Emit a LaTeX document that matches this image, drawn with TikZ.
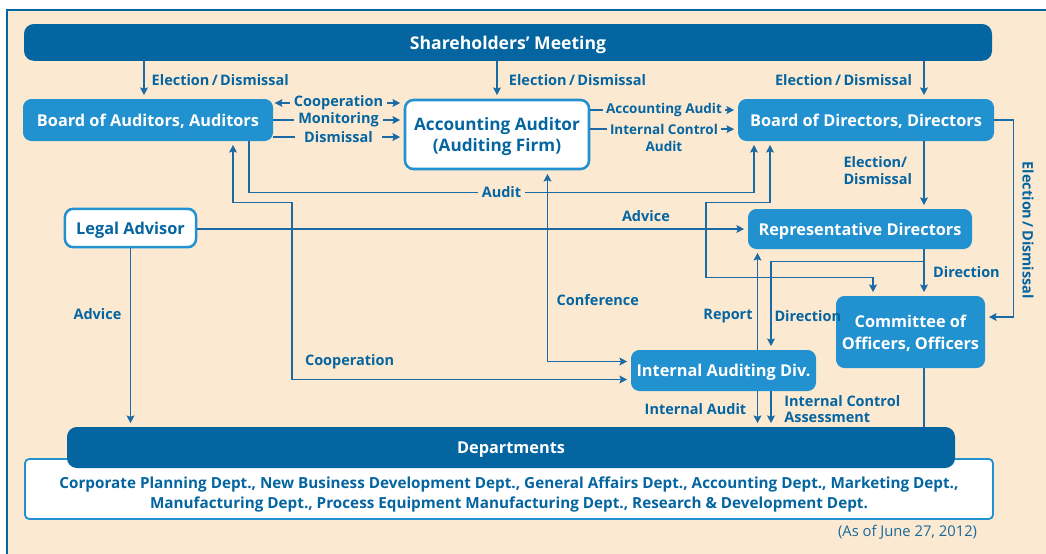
\documentclass[tikz,border=0pt]{standalone}
\usepackage{fontspec}
\setmainfont{Open Sans}
\usepackage{tikz}
\usetikzlibrary{arrows.meta,positioning}
\definecolor{paper}{RGB}{252,233,210}
\definecolor{navy}{RGB}{4,101,160}
\definecolor{midblue}{RGB}{33,145,207}
\definecolor{wire}{RGB}{26,106,165}

\begin{document}
\begin{tikzpicture}[>={Stealth[length=5.5pt,width=5.5pt,inset=1pt]}, every node/.style={align=center},
    headbar/.style={fill=navy,rounded corners=7pt,text=white,text depth=0pt,font=\fontsize{12.5}{15}\selectfont\bfseries},
    bluebox/.style={fill=midblue,rounded corners=6pt,text=white,text depth=0pt,font=\fontsize{11.6}{15.5}\selectfont\bfseries},
    whitebox/.style={fill=white,draw=midblue,line width=1.8pt,rounded corners=6pt,text=navy,text depth=0pt,
      font=\fontsize{11.6}{15}\selectfont\bfseries},
    link/.style={draw=wire,line width=1pt},
    oneway/.style={link,->,shorten >=2.5pt},
    twoway/.style={link,<->,shorten >=2.5pt,shorten <=2.5pt},
    tag/.style={text=navy,font=\fontsize{10.3}{12}\selectfont\bfseries,inner sep=2pt},
    smalltag/.style={tag,font=\fontsize{9.6}{12}\selectfont\bfseries},
    gaplabel/.style={tag,fill=paper,inner xsep=3pt}]
    \useasboundingbox (0,0) rectangle (26.15,-13.825);
    \draw[fill=paper,draw=navy,line width=1.4pt] (0.18,-0.25) rectangle (27,-14.5);
    \coordinate (lane1) at (3.6,0);
    \coordinate (rcol) at (23.1,0);

    \node[headbar,minimum width=24.2cm,minimum height=0.92cm] (meeting) at (12.7,-1.06) {Shareholders’ Meeting};
    \node[bluebox,minimum width=6.25cm,minimum height=1.05cm] (auditors) at (3.7,-3)
      {Board of Auditors, Auditors};
    \node[whitebox,minimum width=4.6cm,minimum height=1.725cm,font=\fontsize{12.2}{15}\selectfont\bfseries] (accaud) at (12.425,-3.3625)
      {Accounting Auditor\\(Auditing Firm)};
    \node[bluebox,minimum width=6.4cm,minimum height=1.05cm] (directors) at (21.65,-3)
      {Board of Directors, Directors};
    \node[whitebox,minimum width=3.28cm,minimum height=0.96cm] (legal) at (3.2625,-5.7)
      {Legal Advisor};
    \node[bluebox,minimum width=5.6cm,minimum height=1cm] (repdir) at (21.5,-5.725)
      {Representative Directors};
    \node[bluebox,minimum width=4.625cm,minimum height=1.025cm] (iad) at (18.0875,-9.2625)
      {Internal Auditing Div.};
    \node[bluebox,minimum width=3.725cm,minimum height=1.8cm] (officers) at (22.7625,-8.3)
      {Committee of\\Officers, Officers};
    \node[fill=white,draw=midblue,line width=1.3pt,rounded corners=3pt,minimum width=24.2cm,minimum height=1.5cm] (deptlist)
      at (12.725,-12.225) {};
    \node[text=navy,font=\fontsize{10.85}{14.2}\selectfont\bfseries] (deptnames) at (12.725,-12.36)
      {Corporate Planning Dept., New Business Development Dept., General Affairs Dept., Accounting Dept., Marketing Dept.,\\
       Manufacturing Dept., Process Equipment Manufacturing Dept., Research \& Development Dept.};
    \node[headbar,minimum width=22.2cm,minimum height=1.025cm,font=\fontsize{11.6}{14}\selectfont\bfseries] (depts) at (12.775,-11.1875)
      {Departments};
    \node[anchor=east,text=navy!85!gray,font=\fontsize{10.5}{12}\selectfont] (asof) at (24.55,-13.3)
      {(As of June 27, 2012)};

    \draw[oneway] (meeting.south -| lane1) -- node[tag,right=3pt]{Election\,/\,Dismissal} (auditors.north -| lane1);
    \draw[oneway] (meeting.south -| accaud.north) -- node[tag,right=6pt]{Election\,/\,Dismissal} (accaud.north);
    \draw[oneway] (meeting.south -| rcol) -- node[tag,left=6pt]{Election\,/\,Dismissal} (directors.north -| rcol);

    \draw[twoway,shorten <=1pt] ([yshift=4.25mm]auditors.east) -- node[gaplabel,minimum width=2.175cm]{Cooperation}
      ([yshift=4.25mm]auditors.east -| accaud.west);
    \draw[oneway] (auditors.east) -- node[gaplabel,minimum width=2.175cm]{Monitoring} (auditors.east -| accaud.west);
    \draw[oneway] ([yshift=-4.25mm]auditors.east) -- node[gaplabel,minimum width=2.175cm]{Dismissal}
      ([yshift=-4.25mm]auditors.east -| accaud.west);

    \draw[oneway] ([yshift=2.5mm]directors.west -| accaud.east) -- node[gaplabel,smalltag,minimum width=2.8cm]{Accounting Audit}
      ([yshift=2.5mm]directors.west);
    \draw[oneway] ([yshift=-2.3mm]directors.west -| accaud.east) -- node[gaplabel,smalltag,minimum width=2.8cm](icaudit){Internal Control}
      ([yshift=-2.3mm]directors.west);
    \node[smalltag,below=0pt of icaudit] (icaudit2) {Audit};

    \draw[oneway] ([xshift=2.525cm]auditors.south) -- ++(0,-1.275) -| node[pos=0.25,gaplabel]{Audit}
      ([xshift=-2.8cm]directors.south);
    \draw[twoway] ([xshift=2.125cm]auditors.south) -- ++(0,-1.525) -- ++(1.475,0) |- node[pos=0.585,tag,above=5pt]{Cooperation}
      ([yshift=-2.25mm]iad.west);
    \draw[twoway] ([xshift=1.2625cm]accaud.south) |- node[pos=0.34,tag,right=4pt]{Conference} ([yshift=2.25mm]iad.west);
    \draw[twoway] ([xshift=-2.4cm]directors.south) -- ++(0,-1.525) -- ++(-1.6,0) -- ++(0,-1.875) -|
      ([xshift=-0.9375cm]officers.north);

    \draw[oneway] (legal.east |- repdir.west) -- node[pos=0.815,tag,above=3pt]{Advice} (repdir.west);
    \draw[oneway] (legal.south) -- node[pos=0.37,tag,left=4pt]{Advice} (legal.south |- depts.north);

    \draw[oneway] (directors.south -| rcol) -- node[pos=0.43,tag,left=6pt,align=left]{Election/\\Dismissal} (repdir.north -| rcol);
    \draw[oneway] (repdir.south -| rcol) -- node[tag,right=4pt]{Direction} (officers.north -| rcol);
    \draw[oneway] ([yshift=-3mm]repdir.south -| rcol) -| node[pos=0.81,tag,right=0pt]{Direction} ([xshift=1.1875cm]iad.north);
    \draw[oneway] ([xshift=0.85cm]iad.north) -- node[pos=0.34,tag,left=1pt]{Report} ([xshift=0.85cm]iad.north |- repdir.south);
    \draw[oneway] (directors.east) -- ++(0.475,0) |- node[pos=0.28,tag,rotate=-90,anchor=south,inner sep=6pt]{Election\,/\,Dismissal}
      ([yshift=3.75mm]officers.east);
    \draw[link] (officers.south -| rcol) -- (depts.north -| rcol);

    \draw[oneway] ([xshift=0.85cm]iad.south) -- node[tag,left=5.5pt]{Internal Audit} ([xshift=0.85cm]iad.south |- depts.north);
    \draw[oneway] ([xshift=1.1875cm]iad.south) -- node[tag,right=7pt,align=left]{Internal Control\\Assessment}
      ([xshift=1.1875cm]iad.south |- depts.north);
  \end{tikzpicture}
\end{document}
